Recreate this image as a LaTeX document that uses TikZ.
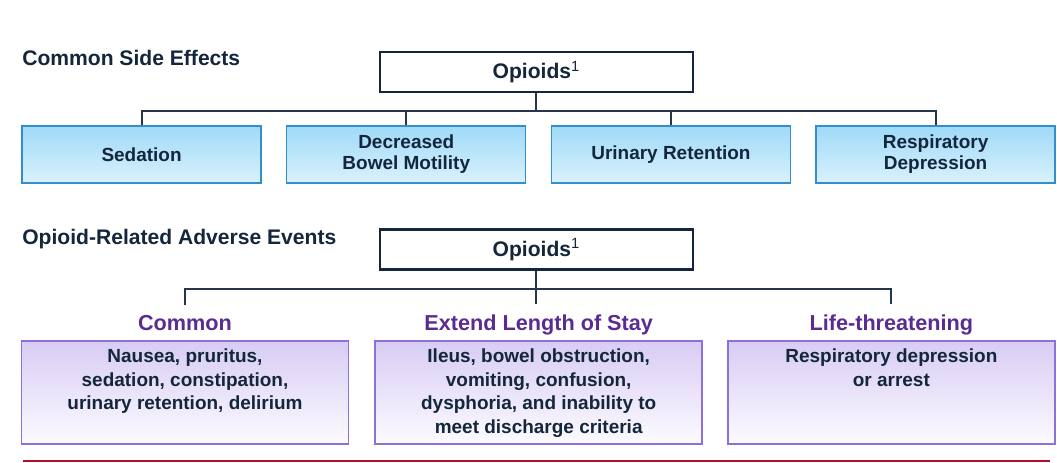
\documentclass[tikz,border=0pt]{standalone}
\usepackage{fontspec}
\setmainfont{Liberation Sans}
\usepackage{tikz}
\usetikzlibrary{positioning, calc}
\definecolor{navyink}{RGB}{20,38,59}
\definecolor{lineink}{RGB}{37,54,74}
\definecolor{blueedge}{RGB}{52,142,205}
\definecolor{bluetop}{RGB}{158,218,247}
\definecolor{bluebot}{RGB}{218,241,253}
\definecolor{purpedge}{RGB}{140,112,220}
\definecolor{purptop}{RGB}{216,204,243}
\definecolor{purpbot}{RGB}{252,251,255}
\definecolor{purpink}{RGB}{90,44,145}
\definecolor{rulered}{RGB}{176,16,32}

\begin{document}
\begin{tikzpicture}[
  title/.style={font=\fontsize{15}{18}\selectfont\bfseries, text=navyink,
              anchor=west, inner sep=0pt},
  opibox/.style={draw=navyink, line width=1.8pt, fill=white,
              font=\fontsize{15}{18}\selectfont\bfseries, text=navyink,
              minimum width=7.825cm, minimum height=1.0cm, inner sep=0pt},
  sidebox/.style={draw=blueedge, line width=0.9pt, top color=bluetop, bottom color=bluebot,
              font=\fontsize{13.5}{15}\selectfont\bfseries, text=navyink, align=center,
              minimum width=5.975cm, minimum height=1.425cm, inner sep=0pt},
  eventbox/.style={draw=purpedge, line width=1.2pt, top color=purptop, bottom color=purpbot,
              minimum width=8.175cm, minimum height=2.575cm, inner sep=0pt},
  eventtxt/.style={font=\fontsize{13.5}{16.6}\selectfont\bfseries, text=navyink,
              align=center, inner sep=0pt},
  grouplbl/.style={font=\fontsize{15.4}{18}\selectfont\bfseries, text=purpink, inner sep=0pt},
  conn/.style={draw=lineink, line width=1.4pt},
]
\useasboundingbox (0,0) rectangle (26.425,11.55);

% ── Common side effects ──────────────────────────────────────
\node[title] (tside) at (0.55,10.1) {Common Side Effects};
\node[opibox] (opiA) at (13.41,9.75) {Opioids\textsuperscript{\mdseries 1}};

\node[sidebox] (sed) at (3.54,7.69) {Sedation};
\node[sidebox, right=0.61cm of sed] (bowel) {Decreased\\Bowel Motility};
\node[sidebox, right=0.61cm of bowel] (urin) {Urinary Retention};
\node[sidebox, right=0.61cm of urin] (resp) {Respiratory\\Depression};

\coordinate (busA) at ($(opiA.south)+(0,-0.45)$);
\draw[conn] (opiA.south) -- (busA);
\draw[conn] (sed.north) |- (busA) -| (resp.north);
\draw[conn] (bowel.north) -- (bowel.north |- busA);
\draw[conn] (urin.north) -- (urin.north |- busA);

% ── Opioid-related adverse events ────────────────────────────
\node[title] (tadv) at (0.55,5.575) {Opioid-Related Adverse Events};
\node[opibox] (opiB) at (13.41,5.31) {Opioids\textsuperscript{\mdseries 1}};

\node[eventbox] (common) at (4.625,1.7375) {};
\node[eventbox, right=0.625cm of common] (stay) {};
\node[eventbox, right=0.6cm of stay] (life) {};

\node[grouplbl, above=0.25cm of common, anchor=base] (lcommon) {Common};
\node[grouplbl, above=0.25cm of stay, anchor=base] (lstay) {Extend Length of Stay};
\node[grouplbl, above=0.25cm of life, anchor=base] (llife) {Life-threatening};

\node[eventtxt, below=0.22cm of common.north] (tcommon)
  {Nausea, pruritus,\\sedation, constipation,\\urinary retention, delirium};
\node[eventtxt, below=0.22cm of stay.north] (tstay)
  {Ileus, bowel obstruction,\\vomiting, confusion,\\dysphoria, and inability to\\meet discharge criteria};
\node[eventtxt, below=0.22cm of life.north] (tlife)
  {Respiratory depression\\or arrest};

\coordinate (busB) at ($(opiB.south)+(0,-0.45)$);
\coordinate[above=0.25cm of lcommon.north] (dcommon);
\coordinate[above=0.25cm of lstay.north] (dstay);
\coordinate[above=0.25cm of llife.north] (dlife);
\draw[conn] (opiB.south) -- (opiB.south |- dstay);
\draw[conn] (dcommon) |- (busB) -| (dlife);

\draw[rulered, line width=1.4pt] (0.575,0.025) -- (26.25,0.025);

\end{tikzpicture}
\end{document}
